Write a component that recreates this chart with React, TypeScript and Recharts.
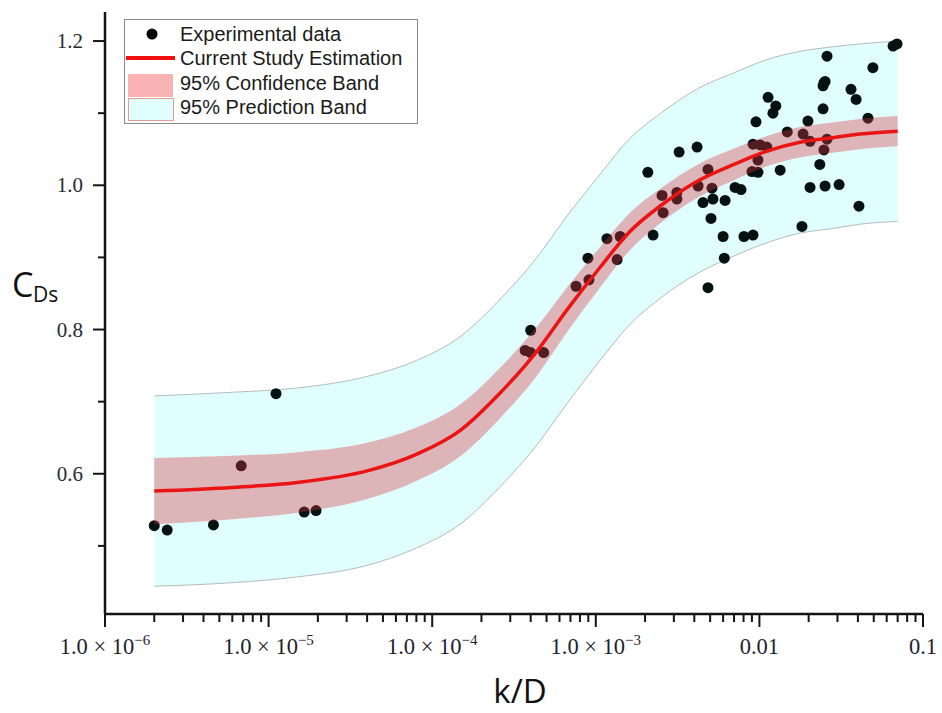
import React from 'react';
import { ComposedChart, Area, Line, Scatter, XAxis, YAxis } from 'recharts';

// ---- fitted curve and bands ----
const curveX = [2e-6, 6e-6, 1.5e-5, 4e-5, 8e-5, 1.5e-4, 2.6e-4, 4.3e-4, 6.7e-4, 1.06e-3, 1.6e-3, 2.5e-3, 4.2e-3, 7e-3, 0.011, 0.018, 0.028, 0.041, 0.07];
const curveY = [0.576, 0.581, 0.588, 0.604, 0.627, 0.661, 0.712, 0.768, 0.828, 0.886, 0.935, 0.972, 1.006, 1.029, 1.047, 1.06, 1.066, 1.071, 1.075];
const confLow = [0.53, 0.537, 0.546, 0.565, 0.59, 0.625, 0.677, 0.734, 0.797, 0.858, 0.909, 0.948, 0.983, 1.007, 1.026, 1.039, 1.045, 1.05, 1.054];
const confHigh = [0.622, 0.625, 0.63, 0.643, 0.664, 0.697, 0.747, 0.802, 0.859, 0.914, 0.961, 0.996, 1.029, 1.051, 1.068, 1.081, 1.087, 1.092, 1.096];
const predLow = [0.444, 0.449, 0.457, 0.473, 0.497, 0.531, 0.582, 0.638, 0.698, 0.757, 0.806, 0.844, 0.878, 0.902, 0.92, 0.934, 0.94, 0.946, 0.95];
const predHigh = [0.708, 0.713, 0.719, 0.735, 0.757, 0.791, 0.842, 0.898, 0.958, 1.015, 1.064, 1.1, 1.134, 1.156, 1.174, 1.186, 1.192, 1.196, 1.2];

// ---- experimental data ----
const expX = [
  2.0e-6, 2.4e-6, 4.6e-6, 6.8e-6, 1.11e-5, 1.65e-5, 1.95e-5,
  3.7e-4, 4.0e-4, 4.8e-4, 4.0e-4, 7.57e-4, 9.08e-4, 8.95e-4,
  1.17e-3, 1.41e-3, 1.35e-3,
  2.08e-3, 2.24e-3, 2.54e-3, 2.58e-3,
  3.13e-3, 3.13e-3, 3.23e-3,
  4.22e-3, 4.16e-3, 4.52e-3, 4.85e-3, 4.85e-3, 5.06e-3, 5.13e-3, 5.2e-3, 6.17e-3, 6.0e-3, 6.1e-3,
  7.1e-3, 7.72e-3, 8.05e-3, 9.14e-3,
  9.01e-3, 9.8e-3, 9.8e-3, 9.14e-3, 0.0101, 0.0111, 9.53e-3, 0.0113, 0.0126, 0.0121, 0.0134, 0.0148,
  0.0185, 0.0204, 0.0198, 0.0182, 0.0204, 0.0234, 0.0245, 0.0248, 0.0259, 0.0252, 0.0307,
  0.0252, 0.0248, 0.0245, 0.0259, 0.0363, 0.039, 0.0406, 0.0461, 0.0494, 0.0656, 0.0694,
];
const expY = [
  0.528, 0.522, 0.529, 0.611, 0.711, 0.547, 0.549,
  0.771, 0.768, 0.768, 0.799, 0.86, 0.869, 0.899,
  0.926, 0.929, 0.897,
  1.018, 0.931, 0.986, 0.962,
  0.99, 0.981, 1.046,
  0.999, 1.053, 0.976, 1.022, 0.858, 0.954, 0.996, 0.981, 0.979, 0.929, 0.899,
  0.997, 0.994, 0.929, 0.931,
  1.019, 1.018, 1.035, 1.057, 1.056, 1.053, 1.088, 1.122, 1.11, 1.1, 1.021, 1.074,
  1.071, 1.061, 1.089, 0.943, 0.997, 1.029, 1.106, 1.049, 1.064, 0.999, 1.001,
  1.144, 1.142, 1.138, 1.179, 1.133, 1.119, 0.971, 1.093, 1.163, 1.193, 1.196,
];

// ---- axes ----
const xMajorTicks = [1e-6, 1e-5, 1e-4, 1e-3, 0.01, 0.1];
const xTickMantissa = ['1.0 × 10', '1.0 × 10', '1.0 × 10', '1.0 × 10', '0.01', '0.1'];
const xTickExponent = ['−6', '−5', '−4', '−3', '', ''];
const xMinorMultipliers = [2, 3, 4, 5, 6, 7, 8, 9];
const yTicks = [0.5, 0.6, 0.7, 0.8, 0.9, 1.0, 1.1, 1.2];
const yLabelled = [0.6, 0.8, 1.0, 1.2];
const yTickLabels = ['0.6', '0.8', '1.0', '1.2'];
const xDomain = [1e-6, 0.1];
const yDomain = [0.40556, 1.24028];

const legendLabels = ['Experimental data', 'Current Study Estimation', '95% Confidence Band', '95% Prediction Band'];

const curveData = curveX.map((x, i) => ({
  x,
  fit: curveY[i],
  conf: [confLow[i], confHigh[i]],
  pred: [predLow[i], predHigh[i]],
}));
const expData = expX.map((x, i) => ({ x, y: expY[i] }));

const xAllTicks: number[] = [];
xMajorTicks.forEach((d, i) => {
  xAllTicks.push(d);
  if (i < xMajorTicks.length - 1) xMinorMultipliers.forEach((m) => xAllTicks.push(Number((d * m).toPrecision(3))));
});

const AXIS = '#141414';
const SERIF = '"Liberation Serif", "Times New Roman", serif';
const SANS = '"Liberation Sans", Arial, sans-serif';
const LABELSANS = '"Open Sans", "Noto Sans", sans-serif';

const XTick = (props: any) => {
  const { x, y, payload } = props;
  const v = payload.value;
  const idx = xMajorTicks.findIndex((t) => Math.abs(Math.log10(t) - Math.log10(v)) < 1e-6);
  const major = idx >= 0;
  return (
    <g>
      <line x1={x} x2={x} y1={y} y2={y + (major ? 13 : 8)} stroke={AXIS} strokeWidth={2} />
      {major && (
        <text x={x} y={y + 40} textAnchor="middle" fontFamily={SERIF} fontSize={22.5} fill="#1e1e30">
          <tspan>{xTickMantissa[idx]}</tspan>
          {xTickExponent[idx] && (
            <tspan dy={-9} fontSize={15}>
              {xTickExponent[idx]}
            </tspan>
          )}
        </text>
      )}
    </g>
  );
};

const YTick = (props: any) => {
  const { x, y, payload } = props;
  const v = payload.value;
  const idx = yLabelled.findIndex((t) => Math.abs(t - v) < 1e-6);
  const major = idx >= 0;
  return (
    <g>
      <line x1={x - (major ? 12 : 7)} x2={x} y1={y} y2={y} stroke={AXIS} strokeWidth={2} />
      {major && (
        <text x={x - 22} y={y + 7} textAnchor="end" fontFamily={SERIF} fontSize={21} fill="#2a2a35">
          {yTickLabels[idx]}
        </text>
      )}
    </g>
  );
};

const Dot = (props: any) => {
  const { cx, cy } = props;
  if (cx == null || cy == null) return null;
  return <circle cx={cx} cy={cy} r={5.5} fill="#061212" />;
};

const LegendBox = () => (
  <div style={{ position: 'absolute', left: 124, top: 19, width: 294, height: 105 }}>
    <svg width={294} height={105}>
      <rect x={0.5} y={0.5} width={293} height={104} fill="#ffffff" stroke="#8a8a8a" strokeWidth={1} />
      <circle cx={28} cy={15} r={5.5} fill="#000" />
      <line x1={2} x2={51} y1={39} y2={39} stroke="#f01010" strokeWidth={4} />
      <rect x={4} y={55} width={45} height={23} fill="#f9b3b5" />
      <rect x={4.5} y={79.5} width={45} height={22} fill="#e0fefe" stroke="#e29a9a" strokeWidth={1} />
      {legendLabels.map((t, i) => (
        <text key={t} x={56} y={22 + i * 24.3} fontFamily={SANS} fontSize={20} fill="#1a1a1a">
          {t}
        </text>
      ))}
    </svg>
  </div>
);

export default function App() {
  return (
    <div style={{ position: 'absolute', left: 0, top: 0, width: 942, height: 713, background: '#fff' }}>
      <ComposedChart
        width={942}
        height={713}
        data={curveData}
        margin={{ top: 12, right: 19, bottom: 59, left: 45 }}
      >
        <XAxis
          dataKey="x"
          type="number"
          scale="log"
          domain={xDomain}
          ticks={xAllTicks}
          interval={0}
          allowDataOverflow
          height={40}
          tickSize={0}
          tickMargin={0}
          tickLine={false}
          axisLine={{ stroke: AXIS, strokeWidth: 2.5 }}
          tick={<XTick />}
        />
        <YAxis
          type="number"
          domain={yDomain}
          ticks={yTicks}
          interval={0}
          allowDataOverflow
          width={60}
          tickSize={0}
          tickMargin={0}
          tickLine={false}
          axisLine={{ stroke: AXIS, strokeWidth: 2.5 }}
          tick={<YTick />}
        />
        <Area
          dataKey="pred"
          type="monotone"
          fill="#e0fefe"
          fillOpacity={1}
          stroke="#b4bcbc"
          strokeWidth={1}
          isAnimationActive={false}
          activeDot={false}
          dot={false}
          zIndex={100}
        />
        <Scatter
          data={expData}
          dataKey="y"
          shape={<Dot />}
          isAnimationActive={false}
          zIndex={150}
        />
        <Area
          dataKey="conf"
          type="monotone"
          fill="rgb(215,50,60)"
          fillOpacity={0.36}
          stroke="none"
          isAnimationActive={false}
          activeDot={false}
          dot={false}
          zIndex={200}
        />
        <Line
          dataKey="fit"
          type="monotone"
          stroke="#ea1414"
          strokeWidth={3.5}
          dot={false}
          activeDot={false}
          isAnimationActive={false}
          zIndex={300}
        />
      </ComposedChart>
      <svg width={942} height={713} style={{ position: 'absolute', left: 0, top: 0, pointerEvents: 'none' }}>
        <text x={12} y={297} fontFamily={LABELSANS} fontSize={34} fill="#111">C</text>
        <text x={33} y={302} fontFamily={LABELSANS} fontSize={21} fill="#111">Ds</text>
        <text x={520} y={703} textAnchor="middle" fontFamily={LABELSANS} fontSize={33} fill="#111">k/D</text>
      </svg>
      <LegendBox />
    </div>
  );
}
